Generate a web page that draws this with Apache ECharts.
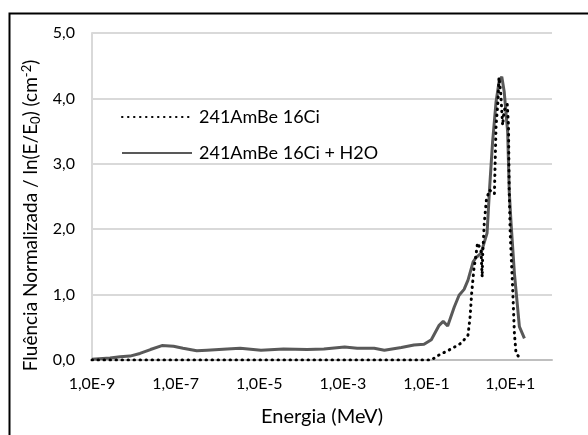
<!DOCTYPE html>
<html>
<head>
<meta charset="utf-8">
<script src="https://cdn.jsdelivr.net/npm/echarts@6/dist/echarts.min.js"></script>
<style>html,body{margin:0;padding:0;background:#fff;}#c{width:588px;height:435px;}</style>
</head>
<body>
<div id="c"></div>
<script>
// Energy (MeV) and normalized fluence values
const energyDry = [1.0e-9, 1.0e-8, 1.0e-7, 1.0e-6, 1.0e-5, 1.0e-4, 1.0e-3, 1.0e-2, 1.0e-1, 0.13,
  0.19, 0.39, 0.68, 0.98, 1.1, 1.2, 1.35, 1.5, 1.66, 2.0, 2.14, 2.19, 2.4, 2.7, 3.2, 4.2, 4.4, 4.6,
  5.1, 5.4, 5.9, 6.6, 7.2, 8.5, 9.1, 9.5, 10.0, 11.5, 12.6, 13.8, 18.2];
const fluenceDry = [0, 0, 0, 0, 0, 0, 0, 0, 0, 0,
  0.07, 0.17, 0.26, 0.38, 0.66, 1.02, 1.38, 1.58, 1.79, 1.68, 1.27, 1.58, 2.09, 2.45, 2.60, 2.54, 3.09, 3.59,
  3.95, 4.32, 4.10, 3.59, 3.82, 3.91, 3.59, 2.57, 1.94, 1.07, 0.41, 0.10, 0.01];

const energyWater = [1.0e-9, 2.7e-9, 4.7e-9, 8.1e-9, 1.4e-8, 2.5e-8, 4.7e-8, 8.9e-8, 1.5e-7, 3.2e-7,
  5.6e-7, 1.7e-6, 3.5e-6, 1.1e-5, 3.8e-5, 1.4e-4, 3.5e-4, 1.1e-3, 2.2e-3, 5.6e-3, 9.8e-3, 2.5e-2,
  5.0e-2, 8.7e-2, 0.13, 0.20, 0.25, 0.32, 0.46, 0.60, 0.79, 0.98, 1.3, 1.5, 2.0, 2.8, 3.2, 3.8, 4.6,
  5.5, 6.3, 7.2, 8.7, 9.5, 10.5, 12.6, 16.6, 21.9];
const fluenceWater = [0.01, 0.03, 0.05, 0.06, 0.10, 0.16, 0.22, 0.21, 0.18, 0.14,
  0.15, 0.17, 0.18, 0.15, 0.17, 0.16, 0.17, 0.20, 0.18, 0.18, 0.15, 0.19,
  0.23, 0.24, 0.31, 0.53, 0.59, 0.52, 0.81, 0.99, 1.08, 1.22, 1.50, 1.56, 1.63, 1.94, 2.60, 3.34, 3.95,
  4.28, 4.33, 4.10, 3.49, 2.57, 2.09, 1.33, 0.51, 0.33];

const seriesNames = ['241AmBe 16Ci', '241AmBe 16Ci + H2O'];
const xTickExponents = [-9, -7, -5, -3, -1, 1];
const yTicks = [0, 1, 2, 3, 4, 5];

const FONT = 'Lato';
function pairs(es, vs) { return es.map((e, i) => [Math.log10(e), vs[i]]); }

const chart = echarts.init(document.getElementById('c'), null, {renderer: 'canvas'});
chart.setOption({
  animation: false,
  backgroundColor: '#ffffff',
  textStyle: {fontFamily: FONT},
  grid: {left: 92, right: 36, top: 33, bottom: 75, containLabel: false},
  graphic: [{
    type: 'rect', left: 7, top: 11, shape: {x: 0, y: 0, width: 620, height: 460},
    style: {fill: 'none', stroke: '#000', lineWidth: 2}, z: 100
  }],
  legend: {
    orient: 'vertical', left: 121, top: 108, padding: 0, itemWidth: 70, itemHeight: 16, itemGap: 18,
    itemStyle: {opacity: 0},
    textStyle: {fontFamily: FONT, fontSize: 18, color: '#000', padding: [0, 0, 0, 2]},
    data: seriesNames
  },
  xAxis: {
    type: 'value', min: -9, max: 2, interval: 1,
    name: 'Energia (MeV)', nameLocation: 'middle', nameGap: 47,
    nameTextStyle: {fontFamily: FONT, fontSize: 20, color: '#000'},
    axisLine: {show: true, onZero: false, lineStyle: {color: '#bfbfbf', width: 2}},
    axisTick: {show: false},
    splitLine: {show: false},
    axisLabel: {
      margin: 16, fontFamily: FONT, fontSize: 16, color: '#000',
      formatter: function (v) {
        const k = Math.round(v);
        if (xTickExponents.indexOf(k) < 0) return '';
        return '1,0E' + (k >= 0 ? '+' : '-') + Math.abs(k);
      }
    }
  },
  yAxis: {
    type: 'value', min: yTicks[0], max: yTicks[yTicks.length - 1], interval: 1,
    name: '{a|Fluência Normalizada / ln(E/E}{sub|0}{a|) (cm}{sup|-2}{a|)}',
    nameLocation: 'middle', nameGap: 47, nameRotate: 90,
    nameTextStyle: {
      fontFamily: FONT, fontSize: 19, color: '#000', padding: [0, 38, 0, 0],
      rich: {
        a: {fontFamily: FONT, fontSize: 19, color: '#000', lineHeight: 22},
        sub: {fontFamily: FONT, fontSize: 13, color: '#000', lineHeight: 12, verticalAlign: 'bottom'},
        sup: {fontFamily: FONT, fontSize: 13, color: '#000', lineHeight: 12, verticalAlign: 'top'}
      }
    },
    axisLine: {show: true, onZero: false, lineStyle: {color: '#d9d9d9', width: 2}},
    axisTick: {show: false},
    splitLine: {show: true, lineStyle: {color: '#d9d9d9', width: 2}},
    axisLabel: {
      margin: 17, fontFamily: FONT, fontSize: 16, color: '#000',
      formatter: v => v.toFixed(1).replace('.', ',')
    }
  },
  series: [
    {
      name: seriesNames[0], type: 'line', showSymbol: false, symbol: 'none',
      data: pairs(energyDry, fluenceDry), z: 3,
      lineStyle: {color: '#000', width: 3, type: [0.5, 5.5], cap: 'round'},
      itemStyle: {color: '#000'}
    },
    {
      name: seriesNames[1], type: 'line', showSymbol: false, symbol: 'none',
      data: pairs(energyWater, fluenceWater), z: 2,
      lineStyle: {color: '#595959', width: 3},
      itemStyle: {color: '#595959'}
    }
  ]
});
</script>
</body>
</html>
